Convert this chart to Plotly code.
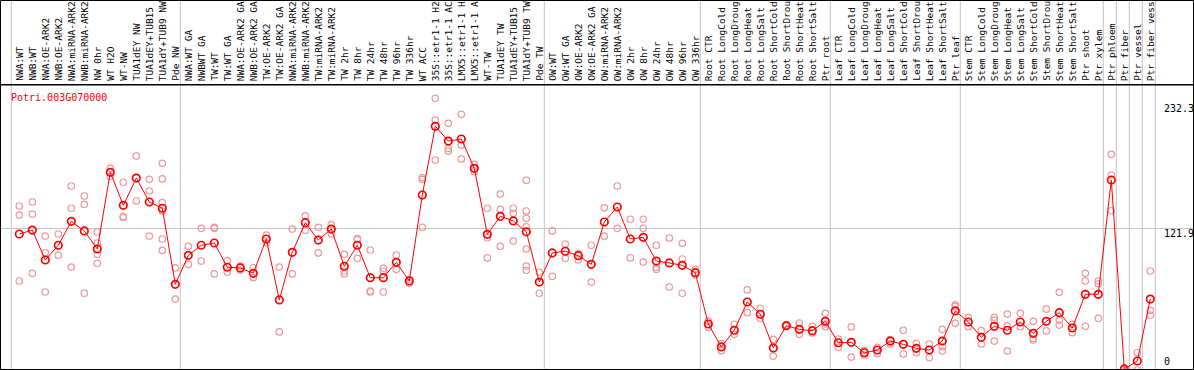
import plotly.graph_objects as go

gene = "Potri.003G070000"

categories = [
    "NWA:WT", "NWB:WT", "NWA:OE-ARK2", "NWB:OE-ARK2", "NWA:miRNA-ARK2", "NWB:miRNA-ARK2",
    "NW 0hr", "WT H2O", "WT-NW", "TUA1dEY NW", "TUA1dEY+TUB15 NW", "TUA1dY+TUB9 NW", "Pde NW",
    "NWA:WT GA", "NWBWT GA", "TW:WT", "TW:WT GA", "NWA:OE-ARK2 GA", "NWB:OE-ARK2 GA",
    "TW:OE-ARK2", "TW:OE-ARK2 GA", "NWA:miRNA-ARK2", "NWB:miRNA-ARK2", "TW:miRNA-ARK2",
    "TW:miRNA-ARK2", "TW 2hr", "TW 8hr", "TW 24hr", "TW 48hr", "TW 96hr", "TW 336hr", "WT ACC",
    "35S::etr1-1 H2O", "35S::etr1-1 ACC", "LMX5::etr1-1 H2O", "LMX5::etr1-1 ACC", "WT-TW",
    "TUA1dEY TW", "TUA1dEY+TUB15 TW", "TUA1dY+TUB9 TW", "Pde TW",
    "OW:WT", "OW:WT GA", "OW:OE-ARK2", "OW:OE-ARK2 GA", "OW:miRNA-ARK2", "OW:miRNA-ARK2",
    "OW 2hr", "OW 8hr", "OW 24hr", "OW 48hr", "OW 96hr", "OW 336hr",
    "Root CTR", "Root LongCold", "Root LongDrought", "Root LongHeat", "Root LongSalt",
    "Root ShortCold", "Root ShortDrought", "Root ShortHeat", "Root ShortSalt", "Ptr root",
    "Leaf CTR", "Leaf LongCold", "Leaf LongDrought", "Leaf LongHeat", "Leaf LongSalt",
    "Leaf ShortCold", "Leaf ShortDrought", "Leaf ShortHeat", "Leaf ShortSalt", "Ptr leaf",
    "Stem CTR", "Stem LongCold", "Stem LongDrought", "Stem LongHeat", "Stem LongSalt",
    "Stem ShortCold", "Stem ShortDrought", "Stem ShortHeat", "Stem ShortSalt", "Ptr shoot",
    "Ptr xylem", "Ptr phloem", "Ptr fiber", "Ptr vessel", "Ptr fiber vessel",
]

means = [
    116.9, 120.4, 94.0, 107.0, 128.1, 119.6, 103.7, 171.3, 142.2, 166.2,
    145.1, 139.6, 72.6, 98.1, 107.0, 109.0, 87.6, 87.0, 82.3, 112.5,
    58.8, 100.8, 126.9, 111.6, 121.3, 88.5, 107.0, 78.4, 78.4, 92.0,
    75.5, 151.3, 211.8, 198.8, 200.6, 174.8, 116.6, 132.5, 128.4, 118.9,
    74.6, 100.2, 101.7, 97.8, 90.2, 127.5, 140.7, 112.5, 114.0, 93.1,
    91.4, 89.3, 82.8, 37.6, 17.4, 32.1, 57.0, 46.2, 16.5, 36.1,
    32.9, 31.7, 40.0, 21.1, 21.5, 12.3, 14.7, 22.6, 19.7, 16.2,
    14.7, 22.6, 49.1, 39.4, 25.9, 35.6, 32.1, 39.4, 29.4, 40.0,
    47.6, 34.1, 63.8, 63.8, 164.5, -2.0, 5.0, 59.6,
]

replicates = [
    [141.6, 133.6, 75.5], [145.1, 134.5, 82.3], [115.1, 100.4, 65.8], [116.9, 98.1],
    [159.2, 139.6, 87.8], [150.4, 143.1, 64.7], [118.7, 109.0, 99.0, 91.1], [174.8, 167.7],
    [162.5, 132.2, 131.6], [185.6, 146.0], [165.1, 154.8, 115.1],
    [179.2, 165.4, 144.5, 137.2, 112.5, 102.5], [87.0, 59.6],
    [106.1, 90.2], [121.9, 93.1], [122.8, 121.9, 81.7], [93.4, 83.4], [88.7, 85.2],
    [87.2, 78.4], [116.0, 109.0], [87.8, 30.6], [121.3, 81.7], [132.8, 120.2],
    [122.8, 100.2], [125.1, 116.9], [99.0, 84.3, 81.9], [112.8, 112.0, 95.5],
    [102.8, 66.6, 65.8], [86.7, 84.3, 65.8], [98.4, 85.8], [77.0, 73.7],
    [166.5, 165.1, 122.8], [236.5, 217.3, 182.1], [214.4, 192.4, 190.0],
    [222.4, 195.3, 183.0], [178.3, 171.8], [139.6, 113.6, 95.8], [152.1, 138.7, 106.1],
    [139.6, 135.1, 110.7], [164.2, 137.2, 130.7, 123.3, 103.7, 88.7, 84.9], [83.2, 64.7],
    [119.6, 79.6], [108.1, 95.5], [99.9, 94.0], [107.0, 74.6], [140.0, 115.0],
    [159.2, 121.9], [129.9, 95.8], [129.9, 121.9, 92.2], [107.0, 87.6, 85.8],
    [113.4, 70.2], [108.7, 94.9, 64.7], [85.8, 80.8],
    [40.3, 34.7], [20.3, 14.1], [37.4, 28.5], [67.6, 47.6], [51.5, 42.6], [24.1, 9.4],
    [36.7, 35.4], [38.5, 28.5], [35.6, 29.7], [47.0, 37.6, 35.2],
    [24.4, 17.1], [35.0, 8.5], [14.1, 10.3], [17.1, 11.5], [23.8, 20.0], [32.1, 11.2],
    [20.6, 12.3], [20.0, 7.9], [32.9, 17.6, 13.8], [54.4, 52.9, 38.2],
    [43.5, 35.2], [31.7, 20.0], [43.5, 41.1, 22.6], [46.4, 35.9, 13.8], [47.0, 35.2],
    [40.0, 25.0, 23.5], [50.8, 31.5], [65.5, 41.1, 36.7], [37.4, 30.0],
    [82.3, 75.5, 35.6], [75.5, 73.1, 42.6], [187.1, 168.9, 137.4], [-2.9, -1.5],
    [12.3, -2.9], [84.3, 49.7, 45.5],
]

group_starts = [0, 13, 41, 53, 63, 73, 84, 85, 86, 87, 88]
axis_labels = [232.3, 121.9, 0]

# ---- geometry ----
W, H = 1194, 370
ML, MR, MT, MB = 1, 1, 85, 1
plot_w = W - ML - MR
plot_h = H - MT - MB
col_px = 13.0
first_px = 19.3
x_min = -(first_px - ML) / col_px
x_max = x_min + plot_w / col_px
y_min, y_max = -2.03, 248.2


def paper_y(px):
    return (H - MB - px) / plot_h


def paper_x(px):
    return (px - ML) / plot_w


idx = list(range(len(categories)))
rep_x, rep_y = [], []
for i, reps in zip(idx, replicates):
    for v in reps:
        rep_x.append(i)
        rep_y.append(v)

fig = go.Figure()
fig.add_trace(go.Scatter(
    x=rep_x, y=rep_y, mode="markers",
    marker=dict(symbol="circle-open", size=6.5, color="#ec9a9a", line=dict(width=1.2, color="#ec9a9a")),
    hoverinfo="skip", showlegend=False,
))
fig.add_trace(go.Scatter(
    x=idx, y=means, mode="lines+markers",
    line=dict(color="#ff0000", width=1),
    marker=dict(symbol="circle-open", size=7.5, color="#ff0000", line=dict(width=1.7, color="#ff0000")),
    showlegend=False,
))

shapes = []
top_paper = paper_y(0.5)
for g in group_starts:
    gx = g - 8.0 / col_px
    shapes.append(dict(type="line", xref="x", yref="paper", x0=gx, x1=gx, y0=0, y1=top_paper,
                       line=dict(color="#c4c4c4", width=1), layer="below"))
# header box
shapes.append(dict(type="rect", xref="paper", yref="paper", x0=paper_x(0.5), x1=paper_x(W - 0.5),
                   y0=1, y1=top_paper, line=dict(color="black", width=1), fillcolor="rgba(0,0,0,0)"))

annotations = []
for i, name in enumerate(categories):
    annotations.append(dict(
        x=i, xref="x", y=paper_y(83), yref="paper", text=name, textangle=-90,
        showarrow=False, xanchor="center", yanchor="bottom",
        font=dict(family="DejaVu Sans Mono", size=9.5, color="black"),
    ))

annotations.append(dict(
    x=paper_x(9), xref="paper", y=paper_y(97.5), yref="paper", text=gene, showarrow=False,
    xanchor="left", yanchor="middle", font=dict(family="DejaVu Sans Mono", size=10, color="#ff0000"),
))

for v in axis_labels:
    if v == 0:
        annotations.append(dict(x=paper_x(1162), xref="paper", y=y_min, yref="y", text=str(v),
                                showarrow=False, xanchor="left", yanchor="bottom",
                                font=dict(family="DejaVu Sans Mono", size=10, color="black")))
    else:
        annotations.append(dict(x=paper_x(1162), xref="paper", y=v, yref="y", text=str(v),
                                showarrow=False, xanchor="left", yanchor="top", yshift=2,
                                font=dict(family="DejaVu Sans Mono", size=10, color="black")))

fig.update_layout(
    width=W, height=H,
    margin=dict(l=ML, r=MR, t=MT, b=MB, pad=0),
    paper_bgcolor="white", plot_bgcolor="white",
    shapes=shapes, annotations=annotations,
    xaxis=dict(range=[x_min, x_max], showgrid=False, zeroline=False, showticklabels=False,
               ticks="", showline=True, mirror=True, linecolor="black", linewidth=1, fixedrange=True),
    yaxis=dict(range=[y_min, y_max], tickvals=[121.9], showgrid=True, gridcolor="#c4c4c4",
               gridwidth=1, zeroline=False, showticklabels=False, ticks="", showline=True,
               mirror=True, linecolor="black", linewidth=1, fixedrange=True),
    hovermode=False,
)

fig.write_html(
    "out.html",
    config={"displayModeBar": False, "staticPlot": True},
    post_script="document.body.style.margin='0px';document.body.style.overflow='hidden';",
)
